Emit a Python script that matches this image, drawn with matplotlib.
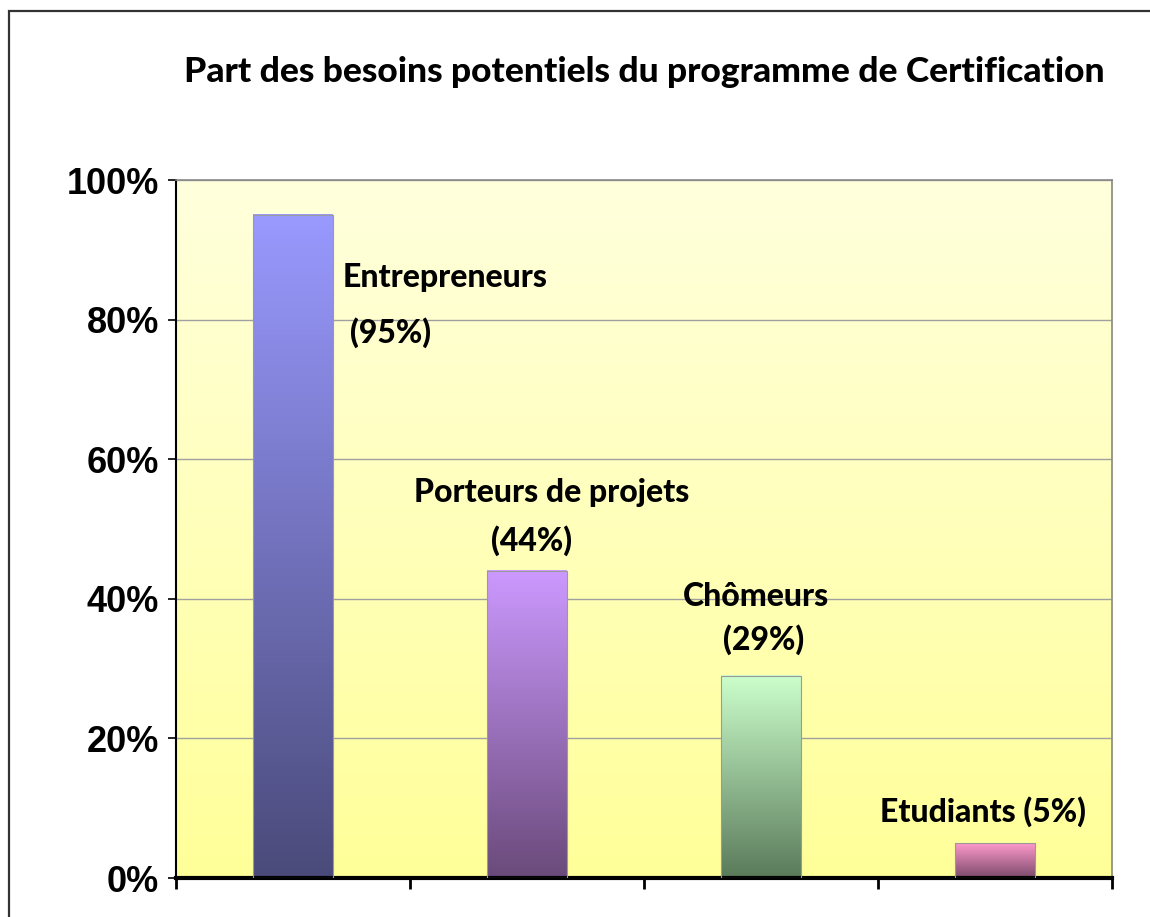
import numpy as np
import matplotlib
matplotlib.use("Agg")
import matplotlib.pyplot as plt
from matplotlib.colors import LinearSegmentedColormap
from matplotlib.patches import Rectangle
from matplotlib.ticker import FuncFormatter, MultipleLocator

title = "Part des besoins potentiels du programme de Certification"
categories = ["Entrepreneurs", "Porteurs de projets", "Chômeurs", "Etudiants"]
values = [95, 44, 29, 5]
top_colors = ["#9999ff", "#cc99ff", "#ccffcc", "#ff99cc"]
bottom_colors = ["#4a4a7a", "#6a4a7a", "#5a7a5a", "#7a4a6a"]

# label text and position (x in data units, y in %)
labels = [
    [("Entrepreneurs", 0.214, 86, "left"), ("(95%)", 0.244, 78.2, "left")],
    [("Porteurs de projets", 1.107, 55.3, "center"), ("(44%)", 1.02, 48.3, "center")],
    [("Chômeurs", 1.98, 40.4, "center"), ("(29%)", 2.01, 34.1, "center")],
    [("Etudiants (5%)", 2.95, 9.5, "center")],
]

fam = ["Lato", "DejaVu Sans"]

fig = plt.figure(figsize=(11.5, 9.17), dpi=100)
fig.patch.set_facecolor("white")
ax = fig.add_axes([0.153, 0.0425, 0.814, 0.7612])

# outer frame (only top and left edges visible in the crop)
fig.add_artist(Rectangle((0.008, -0.1), 1.5, 1.088, transform=fig.transFigure,
                         fill=False, edgecolor="#333333", linewidth=1.6))

ax.set_xlim(-0.5, len(categories) - 0.5)
ax.set_ylim(0, 100)

# background gradient
bg = LinearSegmentedColormap.from_list("bg", ["#ffff99", "#ffffdd"])
grad = np.linspace(0, 1, 256).reshape(-1, 1)
ax.imshow(grad, cmap=bg, aspect="auto", origin="lower",
          extent=[-0.5, len(categories) - 0.5, 0, 100], zorder=0)

ax.yaxis.set_major_locator(MultipleLocator(20))
ax.grid(axis="y", color="#a0a0a0", linewidth=1, zorder=1)

bars = ax.bar(range(len(categories)), values, width=0.34, color="none",
              edgecolor="#9a9a9a", linewidth=0.8, zorder=3)
for b, c0, c1 in zip(bars, top_colors, bottom_colors):
    cm = LinearSegmentedColormap.from_list("b", [c1, c0])
    ax.imshow(grad, cmap=cm, aspect="auto", origin="lower",
              extent=[b.get_x(), b.get_x() + b.get_width(), 0, b.get_height()],
              zorder=2)

for group in labels:
    for txt, x, y, ha in group:
        ax.text(x, y, txt, ha=ha, va="center", fontsize=23, fontweight="black",
                family=fam, color="black", zorder=4)

ax.yaxis.set_major_formatter(FuncFormatter(lambda v, p: f"{v:.0f}%"))
ax.set_xticks(np.arange(-0.5, len(categories)))
ax.set_xticklabels([])
ax.tick_params(axis="x", direction="out", length=8, width=2, color="black")
ax.tick_params(axis="y", direction="out", length=6, width=1.2, color="black",
               labelsize=26, pad=6)
for t in ax.get_yticklabels():
    t.set_fontweight("bold")
    t.set_family(["Liberation Sans", "DejaVu Sans"])

for s in ["top", "right"]:
    ax.spines[s].set_color("#888888")
    ax.spines[s].set_linewidth(1.2)
ax.spines["left"].set_color("black")
ax.spines["left"].set_linewidth(1.5)
ax.spines["bottom"].set_color("black")
ax.spines["bottom"].set_linewidth(3)

fig.text(0.56, 0.922, title, ha="center", va="center", fontsize=25.5,
         fontweight="black", family=fam)

fig.savefig("out.png", dpi=100)
